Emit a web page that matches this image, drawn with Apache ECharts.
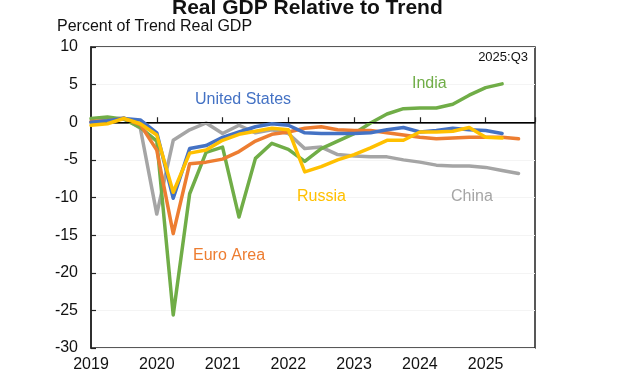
<!DOCTYPE html>
<html>
<head>
<meta charset="utf-8">
<script src="https://cdn.jsdelivr.net/npm/echarts@6/dist/echarts.min.js"></script>
<style>
html,body{margin:0;padding:0;background:#fff;}
#chart{width:636px;height:384px;}
</style>
</head>
<body>
<div id="chart"></div>
<script>
// Quarterly observations, 2019Q1 .. 2025Q3
const quarters = [
  '2019Q1','2019Q2','2019Q3','2019Q4',
  '2020Q1','2020Q2','2020Q3','2020Q4',
  '2021Q1','2021Q2','2021Q3','2021Q4',
  '2022Q1','2022Q2','2022Q3','2022Q4',
  '2023Q1','2023Q2','2023Q3','2023Q4',
  '2024Q1','2024Q2','2024Q3','2024Q4',
  '2025Q1','2025Q2','2025Q3'
];
const unitedStates = [0.0, 0.2, 0.5, 0.3, -1.4, -10.1, -3.5, -3.1, -2.0, -1.3, -0.6, -0.2, -0.4, -1.4, -1.5, -1.5, -1.5, -1.4, -1.0, -0.7, -1.3, -1.1, -0.8, -1.0, -1.1, -1.5, null];
const euroArea     = [0.1, 0.2, 0.5, -0.3, -3.7, -14.8, -5.5, -5.3, -4.9, -3.9, -2.5, -1.6, -1.3, -0.8, -0.6, -1.0, -1.1, -1.1, -1.4, -1.7, -2.0, -2.2, -2.1, -2.0, -2.0, -2.0, -2.2];
const russia       = [-0.4, -0.2, 0.5, -0.2, -1.7, -9.3, -4.1, -3.7, -2.4, -1.6, -1.2, -0.8, -1.0, -6.6, -5.9, -5.0, -4.3, -3.4, -2.4, -2.4, -1.3, -1.3, -1.2, -0.7, -2.0, -2.1, null];
const india        = [0.5, 0.7, 0.4, -0.7, -2.5, -25.6, -9.5, -4.0, -3.3, -12.6, -4.8, -2.8, -3.6, -5.2, -3.5, -2.5, -1.5, -0.1, 1.1, 1.8, 1.9, 1.9, 2.4, 3.6, 4.6, 5.1, null];
const china        = [0.0, 0.3, 0.6, -0.8, -12.2, -2.4, -1.0, -0.1, -1.5, -0.4, -1.4, -1.0, -1.5, -3.5, -3.3, -4.3, -4.5, -4.6, -4.6, -5.0, -5.3, -5.7, -5.8, -5.8, -6.0, -6.4, -6.8];
const yearTicks = [2019, 2020, 2021, 2022, 2023, 2024, 2025];
const yTicks = [10, 5, 0, -5, -10, -15, -20, -25, -30];

const title = 'Real GDP Relative to Trend';
const yTitle = 'Percent of Trend Real GDP';
const stamp = '2025:Q3';

function qToX(q) {
  const y = parseInt(q.slice(0, 4), 10);
  const n = parseInt(q.slice(5), 10);
  return y + (n - 1) / 4;
}
function pairs(vals) {
  return quarters.map((q, i) => [qToX(q), vals[i]]).filter(p => p[1] !== null);
}

const C = {us:'#4472C4', ea:'#ED7D31', ru:'#FFC000', in:'#70AD47', cn:'#A5A5A5'};
const FONT = 'Liberation Sans, Arial, sans-serif';

function mk(name, vals, color, z) {
  return {
    name: name, type: 'line', data: pairs(vals), showSymbol: false, symbol: 'none',
    lineStyle: {color: color, width: 3.5, join: 'round', cap: 'round'},
    itemStyle: {color: color}, z: z, animation: false, silent: true
  };
}

const chart = echarts.init(document.getElementById('chart'), null, {renderer: 'canvas'});
const series = [
  mk('China', china, C.cn, 2),
  mk('India', india, C.in, 3),
  mk('Euro Area', euroArea, C.ea, 4),
  mk('United States', unitedStates, C.us, 5),
  mk('Russia', russia, C.ru, 6)
];
series.push({
  type: 'line', data: [], silent: true, z: 1,
  markLine: {
    silent: true, symbol: ['none', 'none'], label: {show: false},
    lineStyle: {color: '#000', width: 1.2, type: 'solid'},
    data: [{yAxis: 0}], animation: false
  }
});

function lbl(left, top, text, font, fill) {
  return {type: 'text', left: left, top: top, z: 100, zlevel: 0, style: {text: text, font: font, fill: fill, backgroundColor: 'transparent'}};
}

const option = {
  animation: false,
  grid: {left: 91, right: 101, top: 47, bottom: 36, show: true, borderColor: '#222', borderWidth: 1.5, backgroundColor: 'transparent'},
  xAxis: {
    type: 'value', min: 2019, max: 2025.75, interval: 1,
    axisLine: {show: true, lineStyle: {color: '#222', width: 1.5}},
    axisTick: {show: true, inside: true, length: 5, lineStyle: {color: '#222', width: 1.2}},
    splitLine: {show: false},
    axisLabel: {
      color: '#111', fontSize: 16, fontFamily: FONT, margin: 9,
      formatter: v => (yearTicks.indexOf(v) >= 0 ? String(v) : '')
    }
  },
  yAxis: {
    type: 'value', min: -30, max: 10, interval: 5,
    axisLine: {show: true, lineStyle: {color: '#222', width: 1.5}},
    axisTick: {show: true, inside: true, length: 5, lineStyle: {color: '#222', width: 1.2}},
    splitLine: {show: true, lineStyle: {color: '#f4f4f4', width: 1}},
    axisLabel: {
      color: '#111', fontSize: 16, fontFamily: FONT, margin: 13,
      formatter: v => (yTicks.indexOf(v) >= 0 ? String(v) : '')
    }
  },
  series: series,
  graphic: [
    lbl(172, -2, title, 'bold 21px ' + FONT, '#111'),
    lbl(57, 19, yTitle, '16px ' + FONT, '#111'),
    {type: 'text', right: 108, top: 51, z: 100, style: {text: stamp, font: '13px ' + FONT, fill: '#111'}},
    lbl(195, 92, 'United States', '16px ' + FONT, C.us),
    lbl(412, 76, 'India', '16px ' + FONT, C.in),
    lbl(297, 189, 'Russia', '16px ' + FONT, C.ru),
    lbl(451, 189, 'China', '16px ' + FONT, C.cn),
    lbl(193, 248, 'Euro Area', '16px ' + FONT, C.ea)
  ]
};
chart.setOption(option);
</script>
</body>
</html>
